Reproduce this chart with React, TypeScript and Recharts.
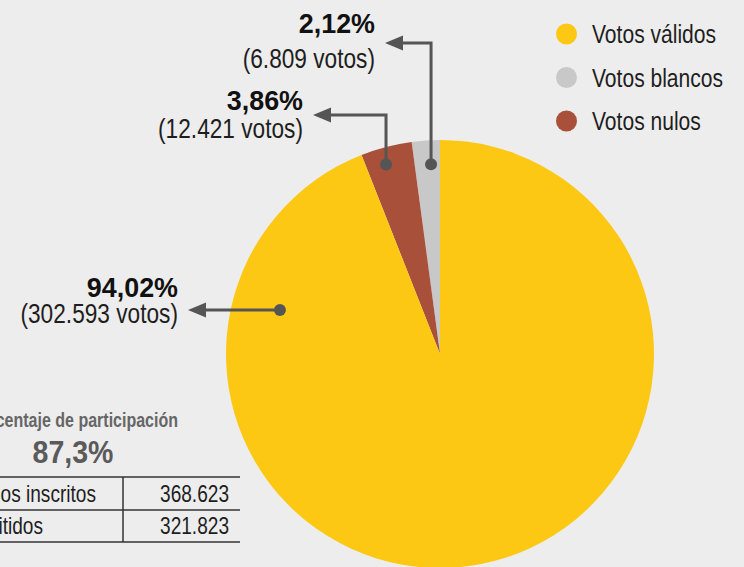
import React from 'react';
import { PieChart, Pie, Cell } from 'recharts';

// votos por categoría (orden de dibujo: desde las 12 en sentido antihorario)
const categories = ['Votos blancos', 'Votos nulos', 'Votos válidos'];
const votes = [6809, 12421, 302593];
const colors = ['#c8c8c8', '#a9503a', '#fcc814'];
const legendOrder = ['Votos válidos', 'Votos blancos', 'Votos nulos'];

const inscritos = 368623;
const tableLabels = ['Ciudadanos inscritos', 'Votos emitidos'];

const W = 744;
const H = 567;
const CX = 440;
const CY = 354;
const R = 214;

const SANS = '"Liberation Sans", Arial, sans-serif';
const LINE = '#555555';

const total = votes.reduce((a, b) => a + b, 0);
const fmtInt = (n: number) => n.toString().replace(/\B(?=(\d{3})+(?!\d))/g, '.');
const fmtPct = (v: number, d: number) => (v * 100).toFixed(d).replace('.', ',') + '%';

const chartData = categories.map((name, i) => ({ name, value: votes[i] }));

// texto condensado: Liberation Sans comprimida en horizontal
const NText = ({ x, y, sx = 0.83, anchor = 'start', size, weight = 'normal', fill = '#1e1e1e', children }: any) => (
  <text
    transform={`translate(${x},${y}) scale(${sx},1)`}
    x={0}
    y={0}
    textAnchor={anchor}
    fontFamily={SANS}
    fontWeight={weight}
    fontSize={size}
    fill={fill}
  >
    {children}
  </text>
);

// disposición de las llamadas (por índice de sector)
const callouts = [
  { angle: 92.7, radius: 190, elbowY: 43, tipX: 385, pctY: 33, votesY: 68 },
  { angle: 105.9, radius: 197, elbowY: 115, tipX: 313, pctY: 110, votesY: 138 },
  { angle: 164.6, radius: 166, elbowY: null as number | null, tipX: 188, pctY: 297, votesY: 323 },
];

const renderCallout = (props: any) => {
  const { index } = props;
  const cx = props.cx ?? CX;
  const cy = props.cy ?? CY;
  const c = callouts[index];
  if (!c) return null;
  const rad = (c.angle * Math.PI) / 180;
  const dx = cx + c.radius * Math.cos(rad);
  const dy = cy - c.radius * Math.sin(rad);
  const ey = c.elbowY ?? dy;
  const base = c.tipX + 18;
  const d = c.elbowY != null ? `M${dx},${dy} V${ey} H${base}` : `M${dx},${dy} H${base}`;
  const textX = c.tipX - 10;
  return (
    <g key={`callout-${index}`}>
      <path d={d} stroke={LINE} strokeWidth={3} fill="none" />
      <polygon points={`${c.tipX},${ey} ${base},${ey - 7.5} ${base},${ey + 7.5}`} fill={LINE} />
      <circle cx={dx} cy={dy} r={6} fill={LINE} />
      <NText x={textX} y={c.pctY} anchor="end" size={28} sx={0.96} weight="bold" fill="#111">
        {fmtPct(votes[index] / total, 2)}
      </NText>
      <NText x={textX} y={c.votesY} anchor="end" size={27} sx={0.84}>
        ({fmtInt(votes[index])} votos)
      </NText>
    </g>
  );
};

const Overlay = () => (
  <svg width={W} height={H} style={{ position: 'absolute', left: 0, top: 0, pointerEvents: 'none' }}>
    {legendOrder.map((name, i) => {
      const k = categories.indexOf(name);
      const y = 34 + i * 43.5;
      return (
        <g key={name}>
          <circle cx={566.5} cy={y} r={10.5} fill={colors[k]} />
          <NText x={592} y={y + 9} size={26} sx={0.81}>
            {name}
          </NText>
        </g>
      );
    })}

    <NText x={178} y={427} anchor="end" size={20} sx={0.8} weight="bold" fill="#666">
      Porcentaje de participación
    </NText>
    <NText x={73} y={463} anchor="middle" size={31} sx={0.92} weight="bold" fill="#5a5a5a">
      {fmtPct(total / inscritos, 1)}
    </NText>

    <line x1={0} x2={240} y1={477} y2={477} stroke="#333" strokeWidth={1.5} />
    <line x1={0} x2={240} y1={510} y2={510} stroke="#333" strokeWidth={1.5} />
    <line x1={0} x2={240} y1={542} y2={542} stroke="#333" strokeWidth={1.5} />
    <line x1={123} x2={123} y1={477} y2={542} stroke="#333" strokeWidth={1.5} />

    <NText x={96} y={502} anchor="end" size={23}>{tableLabels[0]}</NText>
    <NText x={229} y={502} anchor="end" size={23}>{fmtInt(inscritos)}</NText>
    <NText x={43} y={534} anchor="end" size={23}>{tableLabels[1]}</NText>
    <NText x={229} y={534} anchor="end" size={23}>{fmtInt(total)}</NText>
  </svg>
);

export default function App() {
  return (
    <div style={{ position: 'absolute', left: 0, top: 0, width: W, height: H, background: '#ededed', overflow: 'hidden' }}>
      <PieChart width={W} height={H} margin={{ top: 0, right: 0, bottom: 0, left: 0 }}>
        <Pie
          data={chartData}
          dataKey="value"
          nameKey="name"
          cx={CX}
          cy={CY}
          outerRadius={R}
          startAngle={90}
          endAngle={450}
          stroke="none"
          label={renderCallout}
          labelLine={false}
          isAnimationActive={false}
        >
          {chartData.map((d, i) => (
            <Cell key={d.name} fill={colors[i]} />
          ))}
        </Pie>
      </PieChart>
      <Overlay />
    </div>
  );
}
